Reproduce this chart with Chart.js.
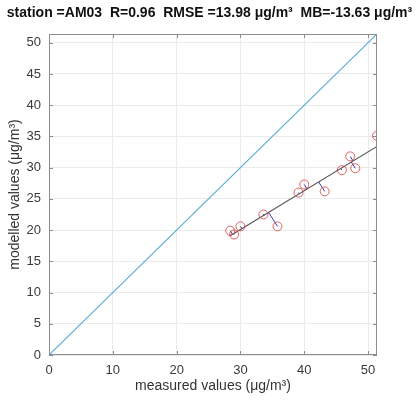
<!DOCTYPE html>
<html>
<head>
<meta charset="utf-8">
<script src="https://cdn.jsdelivr.net/npm/chart.js@4.4.0/dist/chart.umd.min.js"></script>
<style>
  html, body { margin: 0; padding: 0; background: #fff; }
  #wrap { width: 419px; height: 403px; }
</style>
</head>
<body>
<div id="wrap"><canvas id="mychart1"></canvas></div>
<script>
// measured vs modelled (µg/m³)
const measured = [28.4, 29.0, 30.0, 33.6, 35.8, 39.1, 40.0, 43.2, 45.9, 47.2, 48.0, 51.4];
const modelled = [19.9, 19.3, 20.6, 22.5, 20.6, 26.0, 27.3, 26.2, 29.6, 31.8, 29.9, 35.1];

// fitted line ends and 1:1 line ends
const fitX = [28.4, 51.4];
const fitY = [19.1, 33.4];
const oneX = [0, 51.4];
const oneY = [0, 51.4];

const axisMax = 51.4;
const xTicks = [0, 10, 20, 30, 40, 50];
const yTicks = [0, 5, 10, 15, 20, 25, 30, 35, 40, 45, 50];

const titleText = "station =AM03  R=0.96  RMSE =13.98 \u03bcg/m\u00b3  MB=-13.63 \u03bcg/m\u00b3";

// segments from each point to the fitted line (perpendicular foot)
const residualPts = [];
const dx = fitX[1] - fitX[0], dy = fitY[1] - fitY[0];
const len2 = dx * dx + dy * dy;
for (let i = 0; i < measured.length; i++) {
  const t = ((measured[i] - fitX[0]) * dx + (modelled[i] - fitY[0]) * dy) / len2;
  residualPts.push({ x: measured[i], y: modelled[i] });
  residualPts.push({ x: fitX[0] + t * dx, y: fitY[0] + t * dy });
  residualPts.push({ x: measured[i], y: null });
}

const frame = {
  id: "frame",
  afterDatasetsDraw(chart) {
    const { ctx, chartArea: a, scales } = chart;
    ctx.save();
    ctx.strokeStyle = "#8c8c8c";
    ctx.lineWidth = 1;
    ctx.strokeRect(a.left + 0.5, a.top + 0.5, a.right - a.left - 1, a.bottom - a.top - 1);
    ctx.beginPath();
    xTicks.forEach(v => {
      const px = Math.round(scales.x.getPixelForValue(v)) + 0.5;
      ctx.moveTo(px, a.bottom); ctx.lineTo(px, a.bottom - 4);
      ctx.moveTo(px, a.top); ctx.lineTo(px, a.top + 4);
    });
    yTicks.forEach(v => {
      const py = Math.round(scales.y.getPixelForValue(v)) + 0.5;
      ctx.moveTo(a.left, py); ctx.lineTo(a.left + 4, py);
      ctx.moveTo(a.right, py); ctx.lineTo(a.right - 4, py);
    });
    ctx.stroke();
    ctx.restore();
  },
};

const chart1 = document.getElementById("mychart1").getContext("2d");

new Chart(chart1, {
  type: "scatter",
  data: {
    datasets: [
      {
        label: "1:1",
        data: oneX.map((x, i) => ({ x: x, y: oneY[i] })),
        showLine: true,
        borderColor: "#5aaed8",
        borderWidth: 1.2,
        pointRadius: 0,
        order: 4,
      },
      {
        label: "fit",
        data: fitX.map((x, i) => ({ x: x, y: fitY[i] })),
        showLine: true,
        borderColor: "#555555",
        borderWidth: 1.2,
        pointRadius: 0,
        order: 3,
      },
      {
        label: "residual",
        data: residualPts,
        showLine: true,
        spanGaps: false,
        borderColor: "#3b3ba8",
        borderWidth: 1,
        pointRadius: 0,
        order: 2,
      },
      {
        label: "stations",
        data: measured.map((x, i) => ({ x: x, y: modelled[i] })),
        pointStyle: "circle",
        pointRadius: 4.5,
        borderWidth: 1,
        borderColor: "rgba(215,60,60,0.8)",
        backgroundColor: "rgba(0,0,0,0)",
        order: 1,
      },
    ],
  },
  options: {
    responsive: true,
    maintainAspectRatio: false,
    animation: false,
    layout: { padding: 0 },
    plugins: {
      legend: { display: false },
      tooltip: { enabled: false },
      title: {
        display: true,
        text: titleText,
        color: "#111",
        font: { family: "Liberation Sans", size: 14, weight: "bold" },
        padding: { top: 5, bottom: 12.2 },
      },
    },
    scales: {
      x: {
        type: "linear",
        min: 0,
        max: axisMax,
        afterFit: s => { s.height = 48; },
        afterBuildTicks: s => { s.ticks = xTicks.map(v => ({ value: v })); },
        grid: { color: "#ebebeb", drawTicks: false },
        border: { display: false },
        ticks: {
          color: "#3a3a3a",
          padding: 8,
          maxRotation: 0,
          font: { family: "Liberation Sans", size: 13 },
        },
        title: {
          display: true,
          text: "measured values (\u03bcg/m\u00b3)",
          color: "#333",
          font: { family: "Liberation Sans", size: 14 },
          padding: { top: 0, bottom: 8 },
        },
      },
      y: {
        type: "linear",
        min: 0,
        max: axisMax,
        afterFit: s => { s.width = 49; },
        afterBuildTicks: s => { s.ticks = yTicks.map(v => ({ value: v })); },
        grid: { color: "#ebebeb", drawTicks: false },
        border: { display: false },
        ticks: {
          color: "#3a3a3a",
          padding: 8,
          font: { family: "Liberation Sans", size: 13 },
        },
        title: {
          display: true,
          text: "modelled values (\u03bcg/m\u00b3)",
          color: "#333",
          font: { family: "Liberation Sans", size: 14 },
          padding: { top: 7, bottom: 0 },
        },
      },
      // empty right-hand box that keeps the plot square
      gap: {
        type: "linear",
        position: "right",
        display: true,
        min: 0,
        max: axisMax,
        afterFit: s => { s.width = 42; },
        grid: { display: false, drawTicks: false },
        border: { display: false },
        ticks: { display: false },
      },
    },
  },
  plugins: [frame],
});
</script>
</body>
</html>
